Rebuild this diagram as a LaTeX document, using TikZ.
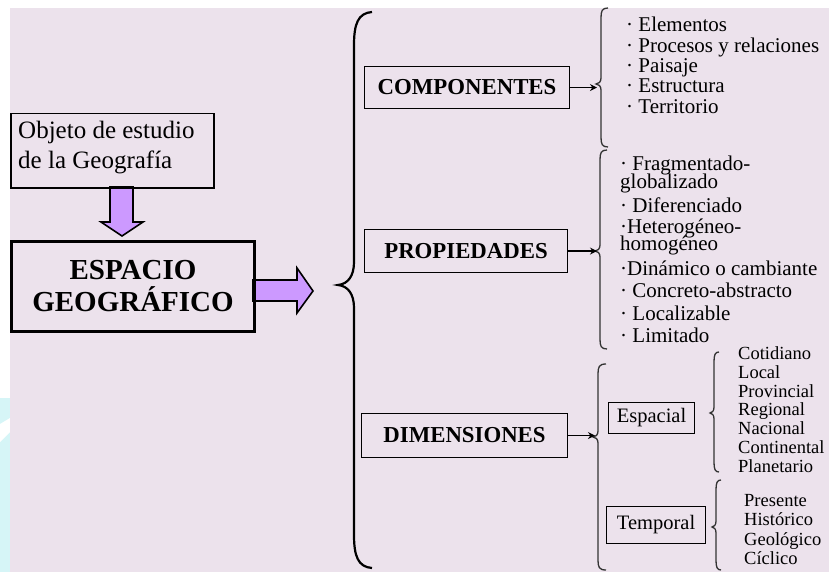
\documentclass[tikz,border=0pt]{standalone}
\usepackage{fontspec}
\setmainfont{Liberation Serif}
\usetikzlibrary{arrows.meta,calc}
\definecolor{bgpink}{RGB}{236,226,236}
\definecolor{arrowviolet}{RGB}{204,153,255}
\definecolor{wmcyan}{RGB}{214,245,247}
\newcommand{\wbrace}[6]{% #1 x of stem, #2 top, #3 tip y, #4 bottom, #5 x of ends, #6 x of tip
  \draw[smbr] (#5,#2) .. controls ({#1+1},#2) and (#1,{#2+3}) .. (#1,{#2+10})
    -- (#1,{#3-6}) .. controls (#1,{#3-2}) and ({(#1+#6)/2},#3) .. (#6,#3)
    .. controls ({(#1+#6)/2},#3) and (#1,{#3+2}) .. (#1,{#3+6})
    -- (#1,{#4-10}) .. controls (#1,{#4-3}) and ({#1+1},#4) .. (#5,#4);}
\begin{document}
\begin{tikzpicture}[x=1pt,y=-1pt,
  boxthin/.style={draw=black,line width=1.1pt,inner sep=0pt,anchor=north west},
  boxthick/.style={draw=black,line width=3pt,inner sep=0pt,anchor=north west},
  headtxt/.style={font=\bfseries\fontsize{22.8}{24}\selectfont},
  subtxt/.style={font=\fontsize{20.5}{22}\selectfont},
  listtxt/.style={anchor=base west,inner sep=0pt,font=\fontsize{21}{21}\selectfont},
  leaftxt/.style={anchor=base west,inner sep=0pt,font=\fontsize{18.5}{18.5}\selectfont},
  fatarrow/.style={fill=arrowviolet,draw=black,line width=1.6pt,line join=miter},
  bigbr/.style={draw=black,line width=2.2pt},
  smbr/.style={draw=black!80,line width=1.3pt},
  link/.style={draw=black,line width=1.5pt,-{Stealth[length=7pt,width=7pt]}}]
\useasboundingbox (0,0) rectangle (829,572);
% background
\fill[white] (0,0) rectangle (829,572);
\fill[wmcyan] (0,398) rectangle (10,572);
\fill[white] (0,424) -- (10,418) -- (10,432) -- (0,442) -- cycle;
\fill[bgpink] (10,8) rectangle (829,572);

% fat arrows
\draw[fatarrow] (110,187) -- (133,187) -- (133,222) -- (143,222) -- (122,236) -- (101,222) -- (110,222) -- cycle;
\draw[fatarrow] (253,280) -- (297,280) -- (297,268) -- (313,291) -- (297,313) -- (297,301) -- (253,301) -- cycle;

% left boxes
\node[boxthin,line width=1.5pt,minimum width=203pt,minimum height=74pt] (obj) at (10,113) {};
\node[anchor=north west,inner sep=0pt,align=left,font=\fontsize{25}{30}\selectfont] (objtxt) at (18,121) {Objeto de estudio\\de la Geografía};
\node[boxthick,minimum width=243pt,minimum height=90pt,align=center,font=\bfseries\fontsize{29}{32}\selectfont] (esp) at (10,240) {ESPACIO\\GEOGRÁFICO};

% big brace
\draw[bigbr] (372,12) .. controls (358,13) and (354,24) .. (354,45) -- (354,262)
  .. controls (354,276) and (348,284) .. (338,285)
  .. controls (348,286) and (354,294) .. (354,308) -- (354,535)
  .. controls (354,556) and (358,567) .. (372,568);

% category boxes
\node[boxthin,minimum width=205pt,minimum height=42pt,headtxt] (comp) at (364,66) {COMPONENTES};
\node[boxthin,minimum width=203pt,minimum height=43pt,headtxt] (prop) at (364,229) {PROPIEDADES};
\node[boxthin,minimum width=206pt,minimum height=44pt,headtxt] (dim) at (361,413) {DIMENSIONES};

% small braces
\wbrace{601}{8}{84}{147}{608}{596}
\wbrace{600}{150}{251}{349}{607}{595}
\wbrace{598}{364}{437}{570}{606}{593}
\wbrace{714}{352}{413}{472}{719}{710}
\wbrace{716}{480}{527}{570}{721}{712}

\coordinate (compT) at (597,87);
\coordinate (propT) at (597,251);
\coordinate (dimT) at (595,435);
\draw[link] (comp.east) -- (comp.east -| compT);
\draw[link] (prop.east) -- (prop.east -| propT);
\draw[link] (dim.east) -- (dim.east -| dimT);

% componentes list
\node[listtxt] (c1) at (626,32) {· Elementos};
\node[listtxt] (c2) at (626,52.5) {· Procesos y relaciones};
\node[listtxt] (c3) at (626,73) {· Paisaje};
\node[listtxt] (c4) at (626,93) {· Estructura};
\node[listtxt] (c5) at (626,113.5) {· Territorio};

% propiedades list
\node[listtxt] (p1) at (620,171) {· Fragmentado-};
\node[listtxt] (p1b) at (620,189) {globalizado};
\node[listtxt] (p2) at (620,212) {· Diferenciado};
\node[listtxt] (p3) at (620,233) {·Heterogéneo-};
\node[listtxt] (p3b) at (620,250) {homogéneo};
\node[listtxt] (p4) at (620,275) {·Dinámico o cambiante};
\node[listtxt] (p5) at (620,297) {· Concreto-abstracto};
\node[listtxt] (p6) at (620,320) {· Localizable};
\node[listtxt] (p7) at (620,342) {· Limitado};

% dimensiones
\node[boxthin,minimum width=86pt,minimum height=31pt,subtxt] (spat) at (608,402) {Espacial};
\node[boxthin,minimum width=99pt,minimum height=37pt,subtxt] (temp) at (606,506) {Temporal};

\node[leaftxt] (s1) at (738,359) {Cotidiano};
\node[leaftxt] (s2) at (738,378) {Local};
\node[leaftxt] (s3) at (738,397) {Provincial};
\node[leaftxt] (s4) at (738,415) {Regional};
\node[leaftxt] (s5) at (738,434) {Nacional};
\node[leaftxt] (s6) at (738,453) {Continental};
\node[leaftxt] (s7) at (738,472) {Planetario};

\node[leaftxt] (t1) at (744,506) {Presente};
\node[leaftxt] (t2) at (744,525) {Histórico};
\node[leaftxt] (t3) at (744,545) {Geológico};
\node[leaftxt] (t4) at (744,564) {Cíclico};
\end{tikzpicture}
\end{document}
